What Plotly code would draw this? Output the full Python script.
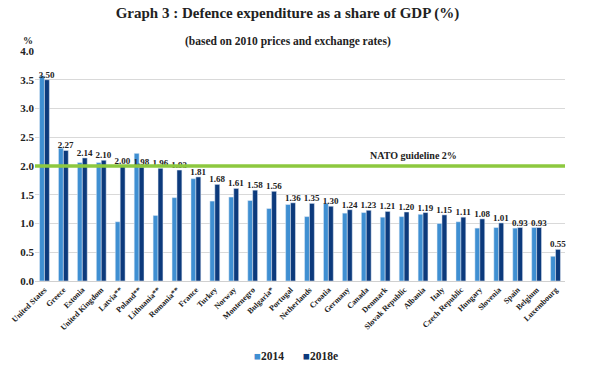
import plotly.graph_objects as go

countries = ["United States", "Greece", "Estonia", "United Kingdom", "Latvia**", "Poland**",
             "Lithuania**", "Romania**", "France", "Turkey", "Norway", "Montenegro", "Bulgaria*",
             "Portugal", "Netherlands", "Croatia", "Germany", "Canada", "Denmark",
             "Slovak Republic", "Albania", "Italy", "Czech Republic", "Hungary", "Slovenia",
             "Spain", "Belgium", "Luxembourg"]
v2014 = [3.57, 2.31, 2.06, 2.06, 1.03, 2.22, 1.14, 1.45, 1.78, 1.39, 1.46, 1.40, 1.26,
         1.33, 1.12, 1.35, 1.18, 1.19, 1.11, 1.12, 1.16, 1.00, 1.03, 0.92, 0.93, 0.92, 0.93, 0.43]
v2018 = [3.50, 2.27, 2.14, 2.10, 2.00, 1.98, 1.96, 1.93, 1.81, 1.68, 1.61, 1.58, 1.56,
         1.36, 1.35, 1.30, 1.24, 1.23, 1.21, 1.20, 1.19, 1.15, 1.11, 1.08, 1.01, 0.93, 0.93, 0.55]
series_names = ["2014", "2018e"]
y_ticks = [0.0, 0.5, 1.0, 1.5, 2.0, 2.5, 3.0, 3.5, 4.0]
nato_guideline = 2.0

SERIF = "Liberation Serif"
C14 = "#3f8fd2"
C18 = "#0c3a7c"

fig = go.Figure()
fig.add_trace(go.Bar(x=countries, y=v2014, name=series_names[0], marker_color=C14))
fig.add_trace(go.Bar(x=countries, y=v2018, name=series_names[1], marker_color=C18,
                     text=[f"{v:.2f}" for v in v2018], textposition="outside",
                     constraintext="none", cliponaxis=False,
                     textfont=dict(family=SERIF, size=9, color="#222", weight="bold")))

fig.add_shape(type="line", xref="paper", yref="y", x0=0, x1=1,
              y0=nato_guideline, y1=nato_guideline,
              line=dict(color="#8dc83f", width=3.5), layer="above")
fig.add_annotation(xref="paper", yref="y", x=0.80, y=nato_guideline, yshift=11,
                   text="NATO guideline 2%", showarrow=False,
                   font=dict(family=SERIF, size=10, color="#222", weight="bold"))

fig.add_annotation(xref="paper", yref="paper", x=-0.027, y=(281 - 33) / 230, text="%",
                   showarrow=False, font=dict(family=SERIF, size=10, color="#222", weight="bold"))
fig.add_annotation(xref="paper", yref="paper", x=(288 - 35) / 530, y=(281 - 33) / 230,
                   text="(based on 2010 prices and exchange rates)", showarrow=False,
                   font=dict(family=SERIF, size=11.5, color="#222", weight="bold"))

# legend drawn as text: colored square + series name
for name, col, left in zip(series_names, [C14, C18], [252, 301]):
    fig.add_annotation(xref="paper", yref="paper", x=(left - 35) / 530, xanchor="left",
                       y=(281 - 356) / 230, yanchor="middle", showarrow=False,
                       text=f"<span style='color:{col}'>■</span>{name}",
                       font=dict(family=SERIF, size=11.5, color="#222", weight="bold"))

fig.update_layout(
    width=598, height=365,
    margin=dict(l=35, r=33, t=51, b=84, autoexpand=False),
    paper_bgcolor="white", plot_bgcolor="white",
    title=dict(text="Graph 3 : Defence expenditure as a share of GDP (%)",
               x=287.5 / 598, xanchor="center", y=1 - 13 / 365, yanchor="middle",
               font=dict(family=SERIF, size=15, color="#222", weight="bold")),
    barmode="group", bargap=0.48, bargroupgap=0.0,
    showlegend=False,
    font=dict(family=SERIF, color="#222"),
)
fig.update_xaxes(tickangle=-45, showgrid=False, showline=True, linecolor="#d0d0d0",
                 automargin=False, ticks="",
                 tickfont=dict(family=SERIF, size=8, color="#222", weight="bold"))
fig.update_yaxes(range=[0, 4], tickvals=y_ticks, tickformat=".1f", showgrid=True,
                 gridcolor="#d9d9d9", gridwidth=1.2, zeroline=False, showline=False,
                 automargin=False, ticks="",
                 tickfont=dict(family=SERIF, size=11, color="#222", weight="bold"))

fig.write_html("out.html", config={"displayModeBar": False},
               post_script="document.body.style.margin='0';document.body.style.overflow='hidden';")
